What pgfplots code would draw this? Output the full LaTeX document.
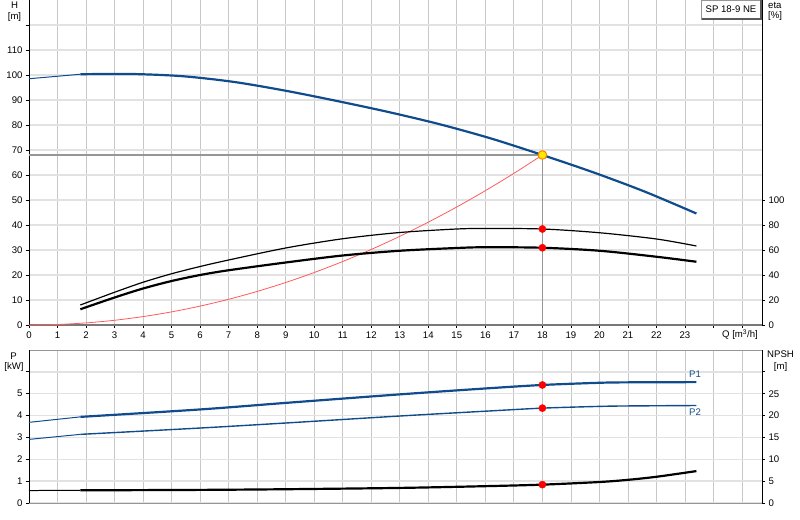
\documentclass[border=0pt]{standalone}
\usepackage{fontspec}
\setmainfont{Liberation Sans}
\usepackage{pgfplots}
\pgfplotsset{compat=1.18}

\definecolor{pblue}{RGB}{16,76,140}
\definecolor{gridv}{RGB}{200,200,200}
\definecolor{gridh}{RGB}{226,226,226}
\definecolor{frame}{RGB}{150,150,150}
\definecolor{sysred}{RGB}{255,90,90}

\pgfplotsset{
  pump/.style={
    scale only axis, width=733bp,
    xmin=0, xmax=25.7,
    tick align=outside, major tick length=3bp,
    tick style={black, line width=0.8pt},
    axis line style={frame, line width=1pt},
    every tick label/.append style={font=\fontsize{9.6bp}{11bp}\selectfont},
    /pgf/number format/assume math mode=true,
    clip=false,
  },
  gridded/.style={
    xmajorgrids, ymajorgrids,
    x grid style={gridv, line width=0.8pt},
    y grid style={gridh, line width=1.4pt},
    xtick={0,1,...,25},
    xtick pos=bottom, ytick pos=left,
  },
}

\begin{document}
\begin{tikzpicture}
\useasboundingbox (0,0) rectangle (800bp,520bp);

% ---------- head / efficiency panel ----------
\begin{axis}[pump, gridded,
    at={(29bp,195bp)}, anchor=south west, height=325bp,
    ymin=0, ymax=130,
    ytick={0,10,...,120},
    yticklabels={0,10,20,30,40,50,60,70,80,90,100,110,},
    xticklabels={0,1,2,3,4,5,6,7,8,9,10,11,12,13,14,15,16,17,18,19,20,21,22,23,,},
  ]
  \draw[frame!80!black, line width=2pt] (rel axis cs:0,0) -- (rel axis cs:1,0);
  \draw[black, line width=1pt] (rel axis cs:0,0) -- (rel axis cs:0,1);
  % duty point guides
  \addplot[frame, line width=1.4pt] coordinates {(0,68) (18,68) (18,0)};
  % system curve
  \addplot[sysred, line width=0.8pt, smooth] coordinates {
    (0,0) (1,0.21) (2,0.84) (3,1.89) (4,3.36) (5,5.25) (6,7.56) (7,10.28)
    (8,13.43) (9,17.0) (10,20.99) (11,25.40) (12,30.22) (13,35.47)
    (14,41.14) (15,47.22) (16,53.73) (17,60.65) (18,68.0)};
  % H curve
  \addplot[pblue, line width=1pt] coordinates {(0,98.5) (1.8,100.3)};
  \addplot[pblue, line width=2.2pt, smooth] coordinates {
    (1.8,100.3) (3.6,100.4) (5.4,99.5) (7.2,97.2) (9,93.7) (10.8,89.6)
    (12.6,85.2) (14.4,80.3) (16.2,74.6) (18,68.0) (19.8,61.0) (21.6,53.3)
    (23.4,44.6)};
  \addplot[only marks, mark=*, mark size=4.3bp,
    mark options={fill=yellow!90!orange, draw=orange, line width=1pt}]
    coordinates {(18,68)};
\end{axis}

\begin{axis}[pump,
    at={(29bp,195bp)}, anchor=south west, height=325bp,
    ymin=0, ymax=260,
    axis x line=none, axis y line*=right,
    axis line style={black, line width=1pt},
    ytick={0,20,...,100},
  ]
  \addplot[black, line width=1.2pt, smooth] coordinates {
    (1.8,16.0) (3,26.2) (4,34.2) (5,41.0) (6,46.8) (7,52.0) (9,61.6)
    (11,69.0) (13,74.0) (15,76.8) (16,77.2) (18,76.8) (20,73.8) (22,68.8)
    (23.4,63.2)};
  \addplot[black, line width=2.2pt, smooth] coordinates {
    (1.8,12.6) (3,22.0) (4,29.2) (5,35.2) (6,40.0) (7,43.8) (9,50.0)
    (11,55.6) (13,59.4) (15,61.6) (16,62.2) (18,61.8) (20,59.4) (22,54.6)
    (23.4,50.6)};
  \addplot[only marks, mark=*, mark size=3.6bp, red] coordinates {(18,76.8) (18,61.8)};
\end{axis}

% ---------- power / NPSH panel ----------
\begin{axis}[pump, gridded,
    at={(29bp,17bp)}, anchor=south west, height=153bp,
    ymin=0, ymax=7,
    ytick={0,1,...,6},
    yticklabels={0,1,2,3,4,5,},
    xticklabels={},
    x tick style={draw=none},
  ]
  \draw[black, line width=1pt] (rel axis cs:0,0) -- (rel axis cs:0,1);
  % P1
  \addplot[pblue, line width=1pt] coordinates {(0,3.69) (1.8,3.94)};
  \addplot[pblue, line width=2.2pt, smooth] coordinates {
    (1.8,3.94) (6,4.28) (9,4.58) (13,4.97) (16,5.24) (18,5.40) (20,5.50)
    (21,5.52) (23.4,5.53)};
  % P2
  \addplot[pblue, line width=1pt] coordinates {(0,2.91) (1.8,3.14)};
  \addplot[pblue, line width=1.4pt, smooth] coordinates {
    (1.8,3.14) (6,3.43) (9,3.66) (13,3.98) (16,4.20) (18,4.34) (20,4.42)
    (21,4.44) (23.4,4.46)};
  \addplot[only marks, mark=*, mark size=3.6bp, red] coordinates {(18,5.40) (18,4.34)};
\end{axis}

\begin{axis}[pump,
    at={(29bp,17bp)}, anchor=south west, height=153bp,
    ymin=0, ymax=35,
    axis x line=none, axis y line*=right,
    axis line style={black, line width=1pt},
    ytick={0,5,...,30},
    yticklabels={0,5,10,15,20,25,},
  ]
  \addplot[black, line width=1pt] coordinates {(0,2.85) (1.8,2.9)};
  \addplot[black, line width=2.2pt, smooth] coordinates {
    (1.8,2.9) (6,3.0) (9,3.15) (13,3.45) (16,3.85) (18,4.2) (20,4.8)
    (21,5.3) (22,6.0) (23.4,7.3)};
  \addplot[only marks, mark=*, mark size=3.6bp, red] coordinates {(18,4.2)};
\end{axis}

% ---------- labels ----------
\begin{scope}[every node/.style={font=\fontsize{9.6bp}{11bp}\selectfont, inner sep=0pt}]
  \node at (14.5bp,515bp) {H};
  \node at (14.5bp,503bp) {[m]};
  \node[anchor=west] at (768bp,515bp) {eta};
  \node[anchor=west] at (768bp,504bp) {[\%]};
  \node at (740bp,185.3bp) {Q [m\textsuperscript{3}/h]};
  \node at (13.5bp,164bp) {P};
  \node at (14bp,152.7bp) {[kW]};
  \node at (780.5bp,165.7bp) {NPSH};
  \node at (780.5bp,153.3bp) {[m]};
  \node[text=pblue] at (695bp,146.3bp) {P1};
  \node[text=pblue] at (695bp,108.3bp) {P2};
  \draw[fill=white, draw=frame, line width=0.8pt] (701bp,501bp) rectangle (761bp,520bp);
  \draw[gray!70!black, line width=1.2pt] (701.5bp,501bp) -- (761bp,501bp) -- (761bp,520bp);
  \node at (731bp,510.7bp) {SP 18-9 NE};
\end{scope}
\end{tikzpicture}
\end{document}
